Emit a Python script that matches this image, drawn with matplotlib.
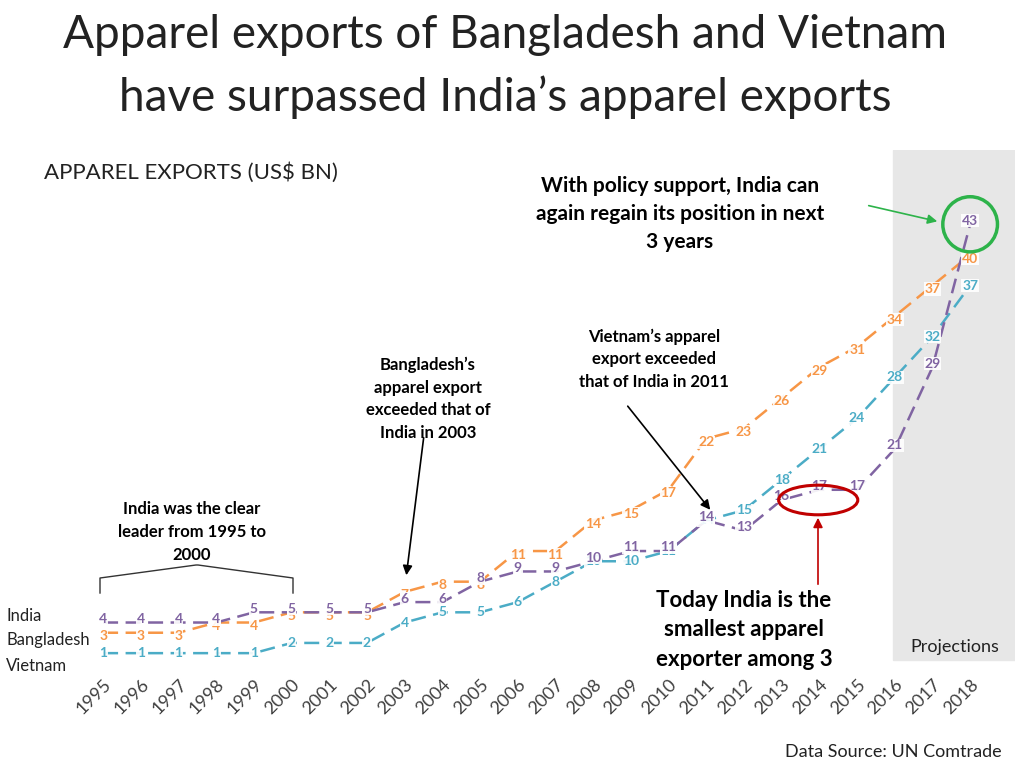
import matplotlib.pyplot as plt
from matplotlib.patches import Ellipse, FancyArrowPatch

plt.rcParams['font.family'] = 'Lato'

years = list(range(1995, 2019))
india = [4, 4, 4, 4, 5, 5, 5, 5, 6, 6, 8, 9, 9, 10, 11, 11, 14, 13, 16, 17, 17, 21, 29, 43]
bangladesh = [3, 3, 3, 4, 4, 5, 5, 5, 7, 8, 8, 11, 11, 14, 15, 17, 22, 23, 26, 29, 31, 34, 37, 40]
vietnam = [1, 1, 1, 1, 1, 2, 2, 2, 4, 5, 5, 6, 8, 10, 10, 11, 14, 15, 18, 21, 24, 28, 32, 37]

c_india = '#8064A2'
c_bang = '#F79646'
c_viet = '#4BACC6'

fig = plt.figure(figsize=(10.24, 7.68), dpi=100)


def fp(x, y):
    # pixel -> figure fraction
    return x / 1024, 1 - y / 768


ax = fig.add_axes([85 / 1024, 0.130, 930 / 1024, 0.675])
ax.set_xlim(1994.52, 2019.19)
ax.set_ylim(-0.47, 50.3)
for s in ax.spines.values():
    s.set_visible(False)
ax.set_yticks([])
ax.set_xticks(years)
ax.set_xticklabels([str(y) for y in years], rotation=45, ha='right', rotation_mode='anchor',
                   fontsize=13, color='#404040')
ax.tick_params(axis='x', length=0, pad=6)

# projections shading
ax.axvspan(2015.95, 2019.19, ymin=0.015, color='#E7E7E7', zorder=0)

# small vertical nudges so close labels don't collide
nudge = {'india': 0.35, 'bangladesh': -0.35, 'vietnam': 0.0}
for name, vals, col in [('vietnam', vietnam, c_viet), ('bangladesh', bangladesh, c_bang), ('india', india, c_india)]:
    ax.plot(years, vals, color=col, lw=1.8, zorder=2, dashes=(6, 3))
    for x, v in zip(years, vals):
        ax.text(x, v + nudge[name], str(v), color=col, fontsize=10, fontweight='bold', ha='center', va='center',
                zorder=3, bbox=dict(boxstyle='square,pad=0.05', fc='white', ec='none', alpha=0.9))

ax.add_patch(Ellipse((2018, 43), 1.45, 5.4, fill=False, ec='#2DB34A', lw=2.5, zorder=4))
ax.add_patch(Ellipse((2013.97, 16), 2.1, 2.9, fill=False, ec='#C00000', lw=2.2, zorder=4))

# titles
fig.text(*fp(505, 35), 'Apparel exports of Bangladesh and Vietnam', fontsize=33, ha='center', va='center', color='#222222')
fig.text(*fp(505, 97), 'have surpassed India\u2019s apparel exports', fontsize=33, ha='center', va='center', color='#222222')
fig.text(*fp(44, 173), 'APPAREL EXPORTS (US$ BN)', fontsize=16, ha='left', va='center', color='#222222')

fig.text(*fp(680, 214), 'With policy support, India can\nagain regain its position in next\n3 years',
         fontsize=15, fontweight='bold', ha='center', va='center', linespacing=1.5)
fig.text(*fp(654, 359), 'Vietnam\u2019s apparel\nexport exceeded\nthat of India in 2011',
         fontsize=12, fontweight='bold', ha='center', va='center', linespacing=1.5)
fig.text(*fp(428, 399), 'Bangladesh\u2019s\napparel export\nexceeded that of\nIndia in 2003',
         fontsize=12, fontweight='bold', ha='center', va='center', linespacing=1.5)
fig.text(*fp(192, 532), 'India was the clear\nleader from 1995 to\n2000',
         fontsize=12, fontweight='bold', ha='center', va='center', linespacing=1.5)
fig.text(*fp(744, 630), 'Today India is the\nsmallest apparel\nexporter among 3',
         fontsize=16, fontweight='bold', ha='center', va='center', linespacing=1.5)
fig.text(*fp(955, 647), 'Projections', fontsize=13, ha='center', va='center', color='#222222')
fig.text(*fp(785, 752), 'Data Source: UN Comtrade', fontsize=13, ha='left', va='center', color='#222222')

for lab, y in [('India', 616), ('Bangladesh', 640), ('Vietnam', 666)]:
    fig.text(*fp(6, y), lab, fontsize=12, ha='left', va='center', color='#222222')


# arrows (figure pixel coords)
def arrow(x0, y0, x1, y1, col):
    fig.add_artist(FancyArrowPatch(fp(x0, y0), fp(x1, y1), transform=fig.transFigure,
                                   arrowstyle='-|>', mutation_scale=14, color=col, lw=1.2))


arrow(866, 205, 940, 222, '#2DB34A')
arrow(626, 404, 712, 512, 'black')
arrow(424, 435, 406, 578, 'black')
arrow(818, 587, 818, 515, '#C00000')

# brace
bx = [100, 100, 196, 198, 293, 293]
by = [593, 578, 565, 565, 578, 593]
bx2, by2 = zip(*[fp(x, y) for x, y in zip(bx, by)])
fig.add_artist(plt.Line2D(bx2, by2, transform=fig.transFigure, color='#333333', lw=1))

fig.savefig('out.png', dpi=100)
